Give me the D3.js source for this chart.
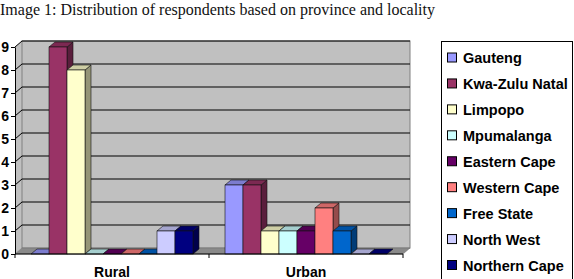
<!DOCTYPE html>
<html>
<head>
<meta charset="utf-8">
<script src="https://cdn.jsdelivr.net/npm/d3@7"></script>
<style>
  body { margin: 0; background: #fff; }
  svg { display: block; }
</style>
</head>
<body>
<svg id="chart" width="574" height="279"></svg>
<script>
// data
const localities = ['Rural', 'Urban']
const provinces = ['Gauteng', 'Kwa-Zulu Natal', 'Limpopo', 'Mpumalanga', 'Eastern Cape',
  'Western Cape', 'Free State', 'North West', 'Northern Cape']
const ruralValues = [0, 9, 8, 0, 0, 0, 0, 1, 1]
const urbanValues = [3, 3, 1, 1, 1, 2, 1, 0, 0]
const provinceColors = ['#9999ff', '#993366', '#ffffcc', '#ccffff', '#660066',
  '#ff8080', '#0066cc', '#ccccff', '#000080']
const yTicks = [0, 1, 2, 3, 4, 5, 6, 7, 8, 9]
const title = 'Image 1: Distribution of respondents based on province and locality'

const valuesByLocality = { Rural: ruralValues, Urban: urbanValues }

const svg = d3.select('#chart')
const font = '"Liberation Sans", Arial, sans-serif'

// 3d depth offsets
const wallDx = 7, wallDy = 6
const barDx = 6, barDy = 5

const plot = { left: 15, right: 403, top: 47, bottom: 254 }

const y = d3.scaleLinear().domain([0, 9]).range([plot.bottom, plot.top])
const x0 = d3.scaleBand().domain(localities).range([plot.left, plot.right])
  .paddingInner(0.165).paddingOuter(0.0825)
const x1 = d3.scaleBand().domain(provinces).range([0, x0.bandwidth()])
const color = d3.scaleOrdinal().domain(provinces).range(provinceColors)

// title
svg.append('text')
  .attr('x', 0).attr('y', 15)
  .attr('font-family', '"Liberation Serif", "Times New Roman", serif')
  .attr('font-size', 16)
  .attr('fill', '#111')
  .text(title)

const wallFill = '#c0c0c0'
const wallStroke = '#808080'

// left side wall
svg.append('polygon')
  .attr('points', [[plot.left, y(9)], [plot.left + wallDx, y(9) - wallDy],
    [plot.left + wallDx, y(0) - wallDy], [plot.left, y(0)]].join(' '))
  .attr('fill', wallFill)

// back wall
svg.append('rect')
  .attr('x', plot.left + wallDx).attr('y', y(9) - wallDy)
  .attr('width', plot.right - plot.left)
  .attr('height', y(0) - y(9))
  .attr('fill', wallFill)
  .attr('stroke', wallStroke)
  .attr('stroke-width', 1)

// gridlines (side wall diagonal + back wall)
const grid = svg.append('g').attr('id', 'grid')
yTicks.filter((d) => d > 0).forEach((v) => {
  grid.append('path')
    .attr('d', `M${plot.left},${y(v)}L${plot.left + wallDx},${y(v) - wallDy}H${plot.right + wallDx}`)
    .attr('fill', 'none')
    .attr('stroke', '#000')
    .attr('stroke-width', 1)
})

// floor
svg.append('polygon')
  .attr('points', [[plot.left, y(0)], [plot.left + wallDx, y(0) - wallDy],
    [plot.right + wallDx, y(0) - wallDy], [plot.right, y(0)]].join(' '))
  .attr('fill', '#8a8a8a')
  .attr('stroke', '#6a6a6a')
  .attr('stroke-width', 0.5)

// bars
const bars = []
localities.forEach((loc) => {
  provinces.forEach((p, i) => {
    bars.push({ loc, province: p, value: valuesByLocality[loc][i] })
  })
})

const barG = svg.append('g').attr('id', 'bars')
bars.forEach((d) => {
  const bx = x0(d.loc) + x1(d.province)
  const w = x1.bandwidth()
  const by = y(d.value)
  const b0 = y(0)
  const c = d3.color(color(d.province))
  const g = barG.append('g')
  // side face
  if (d.value > 0) {
    g.append('polygon')
      .attr('points', [[bx + w, by], [bx + w + barDx, by - barDy],
        [bx + w + barDx, b0 - barDy], [bx + w, b0]].join(' '))
      .attr('fill', c.darker(1.5))
      .attr('stroke', '#111').attr('stroke-width', 0.6)
  }
  // top face
  g.append('polygon')
    .attr('points', [[bx, by], [bx + barDx, by - barDy],
      [bx + w + barDx, by - barDy], [bx + w, by]].join(' '))
    .attr('fill', c.darker(0.6))
    .attr('stroke', '#111').attr('stroke-width', 0.6)
  // front face
  if (d.value > 0) {
    g.append('rect')
      .attr('x', bx).attr('y', by)
      .attr('width', w).attr('height', b0 - by)
      .attr('fill', c)
      .attr('stroke', '#111').attr('stroke-width', 0.6)
  }
})

// y axis
const yAxis = svg.append('g')
  .attr('transform', `translate(${plot.left},0)`)
  .call(d3.axisLeft(y).tickValues(yTicks).tickSize(4).tickSizeOuter(0).tickPadding(2))
yAxis.select('.domain').attr('stroke', '#000')
yAxis.selectAll('text')
  .attr('font-family', font).attr('font-weight', 'bold').attr('font-size', 14)
  .attr('fill', '#000')

// x axis: line, boundary ticks and category labels
const xAxis = svg.append('g').attr('id', 'xAxis')
xAxis.append('line')
  .attr('x1', plot.left).attr('x2', plot.right)
  .attr('y1', y(0)).attr('y2', y(0))
  .attr('stroke', '#000')
const boundaries = [plot.left, (x0('Rural') + x0.bandwidth() + x0('Urban')) / 2, plot.right]
xAxis.selectAll('.tick')
  .data(boundaries)
  .join('line')
  .attr('x1', (d) => d).attr('x2', (d) => d)
  .attr('y1', y(0)).attr('y2', y(0) + 4)
  .attr('stroke', '#000')
xAxis.selectAll('text')
  .data(localities)
  .join('text')
  .attr('x', (d) => x0(d) + x0.bandwidth() / 2)
  .attr('y', 277)
  .attr('text-anchor', 'middle')
  .attr('font-family', font).attr('font-weight', 'bold').attr('font-size', 14)
  .text((d) => d)

// legend (box runs past the bottom edge)
const legendG = svg.append('g').attr('id', 'legend')
legendG.append('rect')
  .attr('x', 441.5).attr('y', 41.5)
  .attr('width', 131).attr('height', 250)
  .attr('fill', '#fff').attr('stroke', '#000')
const legendY = d3.scalePoint().domain(provinces).range([57.5, 265])
const items = legendG.selectAll('g.item')
  .data(provinces)
  .join('g')
  .attr('class', 'item')
  .attr('transform', (d) => `translate(447,${legendY(d)})`)
items.append('rect')
  .attr('x', 0.5).attr('y', -4.5)
  .attr('width', 9).attr('height', 9)
  .attr('fill', (d) => color(d))
  .attr('stroke', '#000')
items.append('text')
  .attr('x', 16).attr('y', 5.5)
  .attr('font-family', font).attr('font-weight', 'bold').attr('font-size', 14.5)
  .attr('fill', '#000')
  .text((d) => d)
</script>
</body>
</html>
